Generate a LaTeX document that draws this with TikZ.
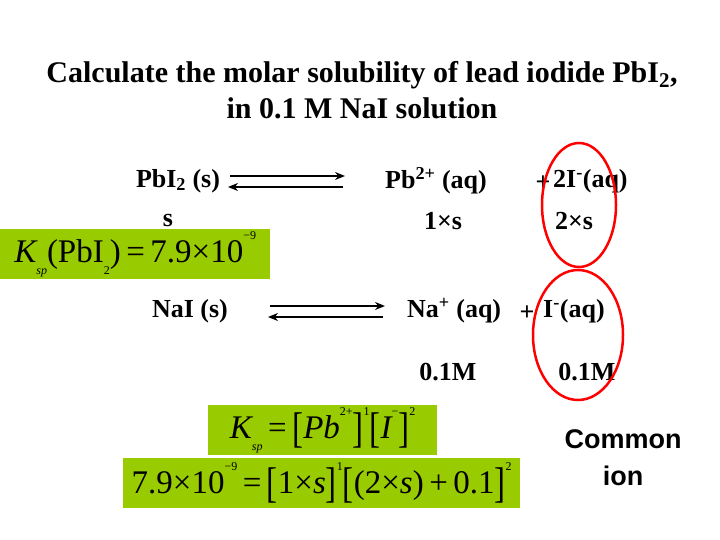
\documentclass[tikz,border=0pt]{standalone}
\usepackage{fontspec}
\usepackage{graphicx}
\usetikzlibrary{arrows.meta}
\setmainfont{Liberation Serif}
\newfontfamily\sansb{Liberation Sans}[BoldFont={Liberation Sans Bold}]
\newcommand\bL{\raisebox{-0.12em}{\scalebox{1}[1.3]{[}}}
\newcommand\bR{\raisebox{-0.12em}{\scalebox{1}[1.3]{]}}}
\newcommand\up[1]{\raisebox{0.7em}{\fontsize{12}{12}\selectfont #1}}
\newcommand\dn[1]{\raisebox{-0.35em}{\fontsize{12}{12}\selectfont\itshape #1}}
\begin{document}
\begin{tikzpicture}[x=1pt,y=-1pt,
 t/.style={font=\fontsize{26}{30}\selectfont\bfseries,inner sep=0pt},
 eq/.style={font=\fontsize{33}{36}\selectfont,inner sep=2pt,fill=grn,anchor=west},
 arr/.style={line width=2.8pt,-{Stealth[length=10pt,width=8pt]}}]
\definecolor{grn}{HTML}{99CC00}
\useasboundingbox (0,0) rectangle (720,540);
\node[font=\fontsize{30}{36}\selectfont\bfseries,align=center] (title) at (362,90) {Calculate the molar solubility of lead iodide PbI\textsubscript{2},\\in 0.1 M NaI solution};
\node[t] (a1) at (178,181) {PbI\textsubscript{2} (s)};
\coordinate (p1) at (230,176); \coordinate (q1) at (345,176);
\coordinate (p2) at (228,187); \coordinate (q2) at (343,187);
\draw[arr] (p1) -- (q1); \draw[arr] (q2) -- (p2);
\node[t,anchor=west] (b1) at (385,181) {Pb\textsuperscript{2+} (aq)};
\node[t] (pl1) at (543,183) {+};
\node[t,anchor=west] (c1) at (553,181) {2I\textsuperscript{-}(aq)};
\node[t] (s1) at (168,221) {s};
\node[t] (s2) at (443,221) {1×s};
\node[t] (s3) at (574,221) {2×s};
\node[eq,minimum height=43pt,minimum width=270pt,anchor=west] (k1) at (0,254) {\itshape K\dn{sp}\upshape(PbI\dn{\upshape 2})\,=\,7.9×10\up{−9}};
\node[t] (a2) at (190,311) {NaI (s)};
\coordinate (p3) at (270,306); \coordinate (q3) at (385,306);
\coordinate (p4) at (268,317); \coordinate (q4) at (383,317);
\draw[arr] (p3) -- (q3); \draw[arr] (q4) -- (p4);
\node[t,anchor=west] (b2) at (407,311) {Na\textsuperscript{+} (aq)};
\node[t] (pl2) at (527,313) {+};
\node[t,anchor=west] (c2) at (543,311) {I\textsuperscript{-}(aq)};
\node[t] (m1) at (448,372) {0.1M};
\node[t] (m2) at (587,372) {0.1M};
\draw[red,line width=2.5pt] (579,205) ellipse (37 and 62);
\draw[red,line width=2.5pt] (578,335) ellipse (45 and 65);
\node[eq,minimum height=45pt,minimum width=229pt] (k2) at (208,430) {\itshape K\dn{sp}\upshape\,=\,\bL\itshape Pb\up{\upshape 2+}\upshape\bR\up{1}\bL\itshape I\up{\upshape −}\upshape\bR\up{2}};
\node[eq,minimum height=50pt,minimum width=397pt] (k3) at (123,483) {7.9×10\up{−9}\,=\,\bL1×\textit{s}\bR\up{1}\bL(2×\textit{s})\,+\,0.1\bR\up{2}};
\node[font=\sansb\fontsize{27}{37}\selectfont\bfseries,align=center] (ci) at (623,458) {Common\\ion};
\end{tikzpicture}
\end{document}
